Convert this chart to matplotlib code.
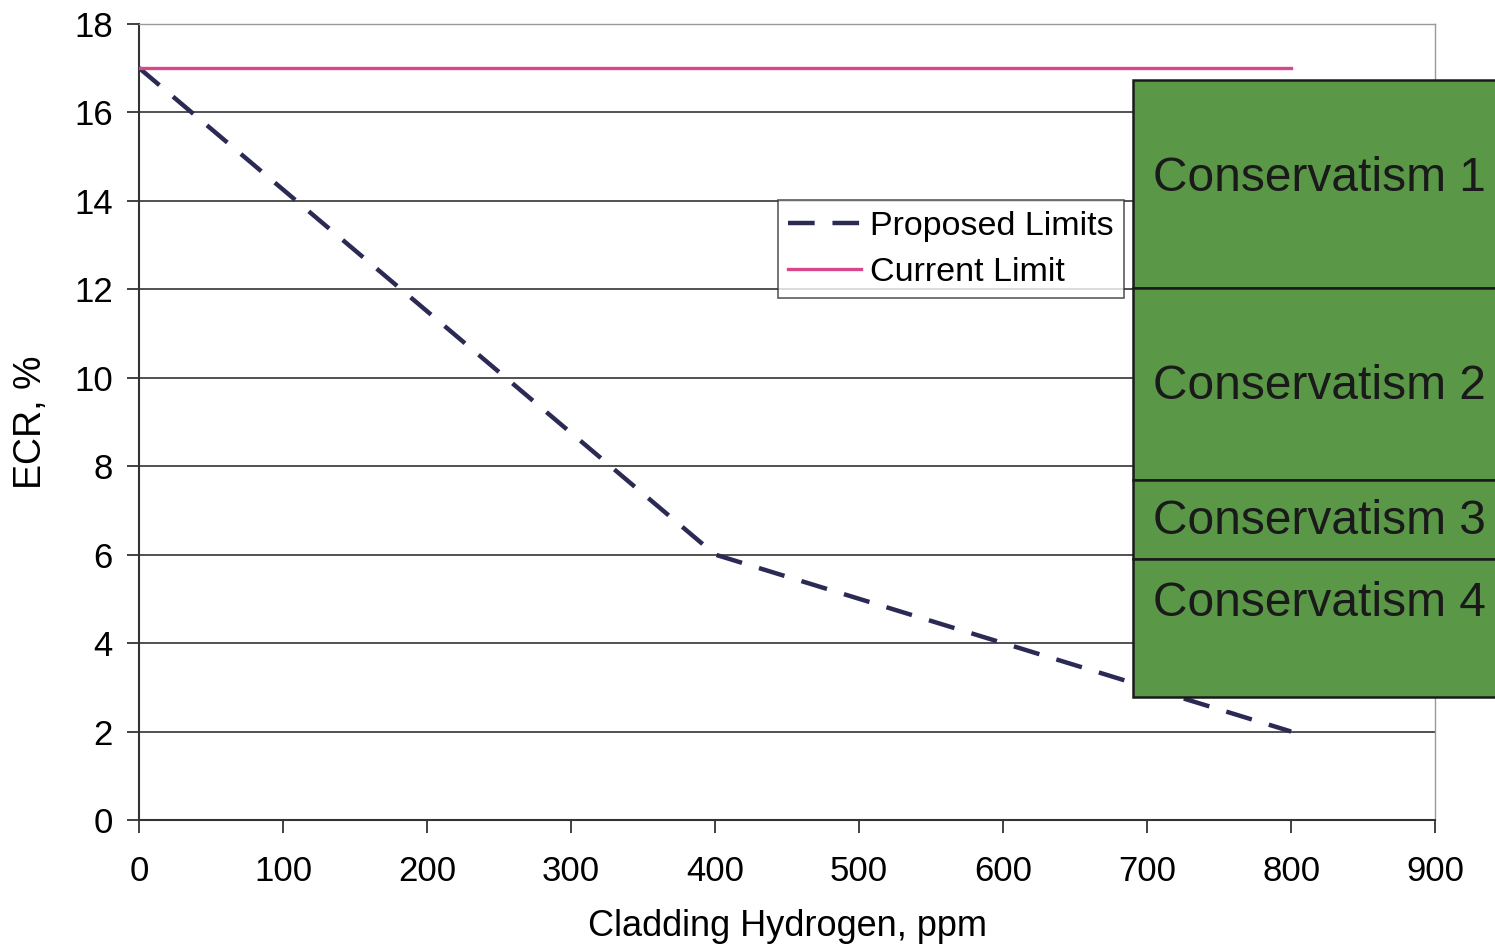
import matplotlib.pyplot as plt
from matplotlib.patches import Rectangle

plt.rcParams['font.family'] = ['Liberation Sans', 'DejaVu Sans']

# ECR limits vs cladding hydrogen
hydrogen_ppm = [0, 400, 800]
proposed_ecr = [17, 6, 2]
current_x = [0, 800]
current_ecr = [17, 17]

# conservatism bands (ECR ranges), drawn as a stacked box on the right
band_labels = ["Conservatism 1", "Conservatism 2", "Conservatism 3", "Conservatism 4"]
band_top = [16.73, 12.03, 7.69, 5.90]
band_bottom = [12.03, 7.69, 5.90, 2.78]
band_label_y = [14.5, 9.8, 6.75, 4.9]
box_left = 690
box_right = 1000

fig = plt.figure(figsize=(14.95, 9.48), dpi=100)
ax = fig.add_axes([0.093, 0.135, 0.867, 0.840])

ax.plot(hydrogen_ppm, proposed_ecr, color='#2a2a55', lw=3.2,
        dashes=(6, 4), label='Proposed Limits', zorder=3)
ax.plot(current_x, current_ecr, color='#d8468c', lw=2.4,
        label='Current Limit', zorder=3)

ax.set_xlim(0, 900)
ax.set_ylim(0, 18)
ax.set_xticks(range(0, 901, 100))
ax.set_yticks(range(0, 19, 2))
ax.yaxis.grid(True, color='#333333', lw=1.2)
ax.set_axisbelow(True)

ax.tick_params(labelsize=25, length=9, width=1.3, color='#333333')
ax.tick_params(axis='x', pad=16)
ax.tick_params(axis='y', pad=10)
for s in ['left', 'bottom']:
    ax.spines[s].set_color('#333333')
    ax.spines[s].set_linewidth(1.5)
for s in ['top', 'right']:
    ax.spines[s].set_color('#999999')
    ax.spines[s].set_linewidth(1.0)

ax.set_xlabel('Cladding Hydrogen, ppm', fontsize=26, labelpad=15)
ax.set_ylabel('ECR, %', fontsize=27, labelpad=18)

leg = ax.legend(loc='upper left', bbox_to_anchor=(0.493, 0.778), fontsize=24.5,
                frameon=True, fancybox=False, edgecolor='#333333',
                handlelength=2.15, handletextpad=0.25, borderpad=0.3,
                labelspacing=0.45, borderaxespad=0)
leg.get_frame().set_linewidth(1.2)
leg.set_zorder(4)

for lab, top, bot, ty in zip(band_labels, band_top, band_bottom, band_label_y):
    ax.add_patch(Rectangle((box_left, bot), box_right - box_left, top - bot,
                           facecolor='#5a9848', edgecolor='#1a1a1a', lw=1.8,
                           clip_on=False, zorder=5))
    ax.text(box_left + 14, ty, lab, fontsize=34.5, color='#1a1a1a',
            va='center', ha='left', zorder=6, clip_on=False)

fig.savefig('out.png', dpi=100)
